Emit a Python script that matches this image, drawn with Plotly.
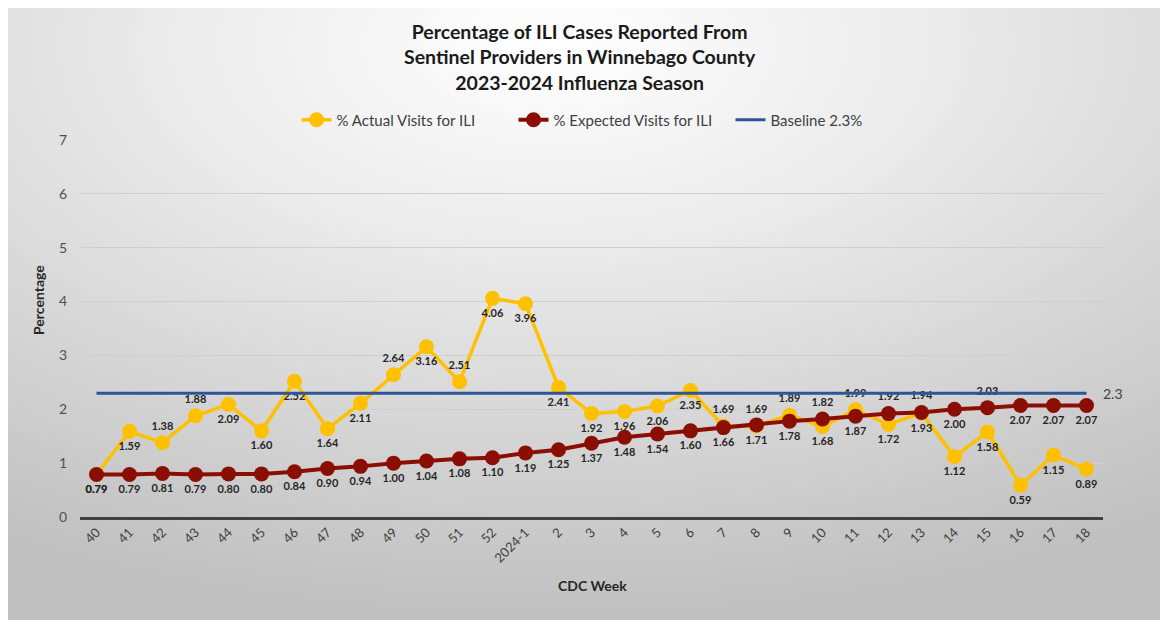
import base64
import plotly.graph_objects as go

# ---------------- data ----------------
weeks = ["40", "41", "42", "43", "44", "45", "46", "47", "48", "49", "50", "51", "52",
         "2024-1", "2", "3", "4", "5", "6", "7", "8", "9", "10", "11", "12", "13",
         "14", "15", "16", "17", "18"]
actual = [0.79, 1.59, 1.38, 1.88, 2.09, 1.60, 2.52, 1.64, 2.11, 2.64, 3.16, 2.51, 4.06,
          3.96, 2.41, 1.92, 1.96, 2.06, 2.35, 1.69, 1.69, 1.89, 1.68, 1.99, 1.72, 1.93,
          1.12, 1.58, 0.59, 1.15, 0.89]
expected = [0.79, 0.79, 0.81, 0.79, 0.80, 0.80, 0.84, 0.90, 0.94, 1.00, 1.04, 1.08, 1.10,
            1.19, 1.25, 1.37, 1.48, 1.54, 1.60, 1.66, 1.71, 1.78, 1.82, 1.87, 1.92, 1.94,
            2.00, 2.03, 2.07, 2.07, 2.07]
baseline_value = 2.3
y_ticks = [0, 1, 2, 3, 4, 5, 6, 7]

# ---------------- label placement (style) ----------------
B, T = "bottom center", "top center"
actual_pos = [B, B, T, T, B, B, B, B, B, T, B, T, B,
              B, B, B, B, B, B, T, T, T, B, T, B, B,
              B, B, B, B, B]
expected_pos = [B] * 22 + [T, B, T, T, B, T, B, B, B]

FONT = "Lato, 'Open Sans', sans-serif"
OX, OY = 8, 8                      # page body margin offset
W, H = 1155, 612
L, R, TOP, BOT = 80 - OX, 60, 140 - OY, 103
pw, ph = W - L - R, H - TOP - BOT


def px(xr):   # reference page x -> paper x
    return (xr - OX - L) / pw


def py(yr):   # reference page y -> paper y
    return (H - BOT - (yr - OY)) / ph


# background gradient as svg image
svg = """<svg xmlns='http://www.w3.org/2000/svg' width='1155' height='612' preserveAspectRatio='none'>
<defs><radialGradient id='g' cx='0.47' cy='0.06' r='0.95' fx='0.47' fy='0.06'>
<stop offset='0' stop-color='#ffffff'/>
<stop offset='0.35' stop-color='#ebebeb'/>
<stop offset='1' stop-color='#bfbfbf'/>
</radialGradient></defs>
<rect x='0' y='0' width='1155' height='612' fill='url(#g)'/>
</svg>"""
src = "data:image/svg+xml;base64," + base64.b64encode(svg.encode()).decode()

fig = go.Figure()

fig.add_trace(go.Scatter(
    x=weeks, y=actual, name="% Actual Visits for ILI", mode="lines+markers+text",
    line=dict(color="#FFC000", width=3.5),
    marker=dict(color="#FFC000", size=15),
    text=[f"{v:.2f}" for v in actual], textposition=actual_pos,
    textfont=dict(family=FONT, size=11, color="#262626", weight="bold"),
    cliponaxis=False, hoverinfo="skip"))

fig.add_trace(go.Scatter(
    x=weeks, y=expected, name="% Expected Visits for ILI", mode="lines+markers+text",
    line=dict(color="#8B0E04", width=4),
    marker=dict(color="#8B0E04", size=15),
    text=[f"{v:.2f}" for v in expected], textposition=expected_pos,
    textfont=dict(family=FONT, size=11, color="#262626", weight="bold"),
    cliponaxis=False, hoverinfo="skip"))

base_y = [baseline_value] * len(weeks)
fig.add_trace(go.Scatter(
    x=weeks, y=base_y, name="Baseline 2.3%", mode="lines",
    line=dict(color="#2F5597", width=3),
    cliponaxis=False, hoverinfo="skip"))

fig.update_layout(
    width=W, height=H,
    margin=dict(l=L, r=R, t=TOP, b=BOT),
    paper_bgcolor="#d8d8d8", plot_bgcolor="rgba(0,0,0,0)",
    font=dict(family=FONT, color="#404040"),
    showlegend=True,
    legend=dict(orientation="h", x=px(622), xanchor="center",
                y=py(120), yanchor="middle",
                font=dict(family=FONT, size=15, color="#404040"),
                itemwidth=30, entrywidth=172, entrywidthmode="pixels",
                bgcolor="rgba(0,0,0,0)", traceorder="normal"),
    images=[dict(source=src, xref="paper", yref="paper",
                 x=-L / pw, y=(H - BOT) / ph,
                 sizex=W / pw, sizey=H / ph,
                 xanchor="left", yanchor="top", sizing="stretch", layer="below")],
    annotations=[
        dict(text="Percentage of ILI Cases Reported From<br>Sentinel Providers in Winnebago County<br>2023-2024 Influenza Season",
             xref="paper", yref="paper", x=px(580), y=py(57),
             xanchor="center", yanchor="middle", showarrow=False,
             font=dict(family=FONT, size=19.5, color="#1a1a1a", weight="bold")),
        dict(text="CDC Week", xref="paper", yref="paper",
             x=px(592), y=py(585),
             xanchor="center", yanchor="middle", showarrow=False,
             font=dict(family=FONT, size=14, color="#262626", weight="bold")),
        dict(text="Percentage", xref="paper", yref="paper",
             x=px(38), y=py(300), textangle=-90,
             xanchor="center", yanchor="middle", showarrow=False,
             font=dict(family=FONT, size=14, color="#262626", weight="bold")),
        dict(text=f"{baseline_value:g}", xref="x", yref="y",
             x=len(weeks) - 1, y=baseline_value, xanchor="left", yanchor="middle",
             xshift=14, showarrow=False,
             font=dict(family=FONT, size=14, color="#404040")),
    ],
)

fig.update_xaxes(type="category", range=[-0.5, len(weeks) - 0.5],
                 showgrid=False, showline=True, linecolor="#404040", linewidth=2.5,
                 ticks="", tickangle=-45,
                 tickfont=dict(family=FONT, size=13, color="#404040"),
                 zeroline=False)
fig.update_yaxes(range=[0, 7], tickvals=y_ticks, showgrid=True,
                 gridcolor="#cfcfcf", gridwidth=1, showline=False, zeroline=False,
                 ticks="", ticklabelstandoff=12,
                 tickfont=dict(family=FONT, size=14, color="#505050"))

fig.write_html("out.html")
